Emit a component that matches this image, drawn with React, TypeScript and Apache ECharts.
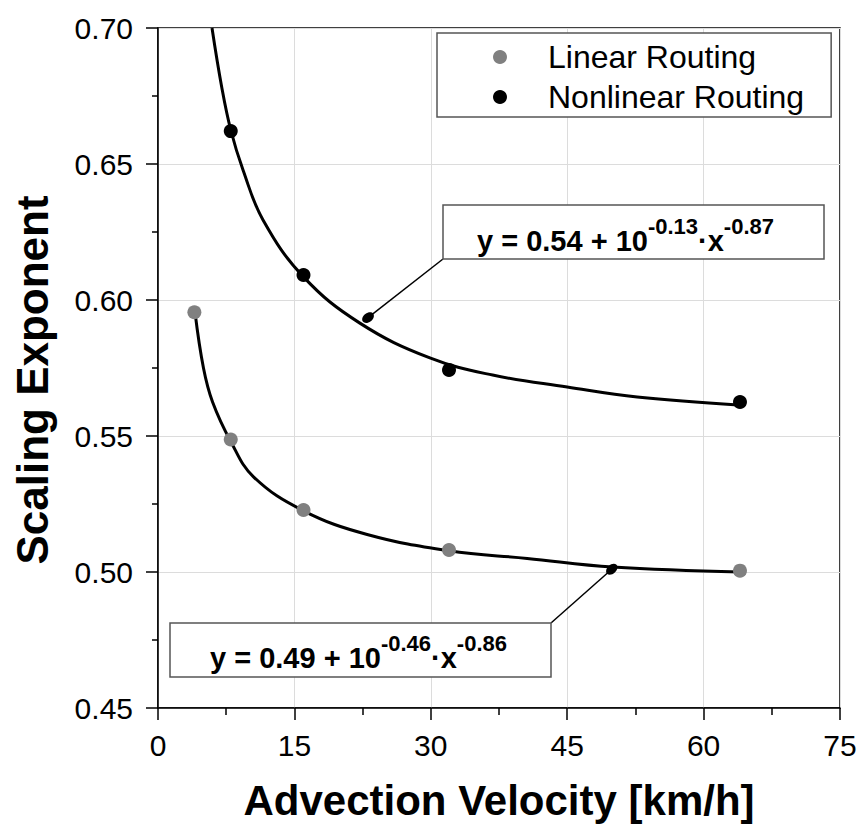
import React, { useEffect, useRef } from "react";
import * as echarts from "echarts";

// Measured points (advection velocity km/h, scaling exponent)
const linearVelocity = [4, 8, 16, 32, 64];
const linearExponent = [0.5955, 0.5487, 0.5228, 0.5081, 0.5005];
const nonlinearVelocity = [8, 16, 32, 64];
const nonlinearExponent = [0.6621, 0.6092, 0.5743, 0.5625];

// Fitted curves
const linearFitX = [4.07, 5, 6, 8, 10.5, 16, 23, 32, 40.6, 50, 64];
const linearFitY = [0.5955, 0.575, 0.5625, 0.548, 0.535, 0.5225, 0.5138, 0.5078, 0.505, 0.5018, 0.5];
const nonlinearFitX = [5.94, 7, 8, 9.35, 11.55, 16, 22.2, 29.9, 36.8, 45, 52.7, 63.8];
const nonlinearFitY = [0.7, 0.6784, 0.6625, 0.6478, 0.6294, 0.6085, 0.5915, 0.5787, 0.5724, 0.568, 0.5643, 0.5614];

// Annotation anchors on the curves and formula parts
const annotationAnchors = [
  [23.1, 0.5935],
  [49.9, 0.501],
];
const formulaConst = ["0.54", "0.49"];
const formulaLogA = ["-0.13", "-0.46"];
const formulaExp = ["-0.87", "-0.86"];

const xTicks = [0, 15, 30, 45, 60, 75];
const yTicks = [0.45, 0.5, 0.55, 0.6, 0.65, 0.7];

const FONT = 'Arial, "Liberation Sans", Helvetica, sans-serif';

const zip = (xs: number[], ys: number[]) => xs.map((x, i) => [x, ys[i]]);

export default function App() {
  const ref = useRef<HTMLDivElement>(null);
  useEffect(() => {
    document.body.style.margin = "0";
    const chart = echarts.init(ref.current!, null, { renderer: "svg" });
    const option: any = {
      animation: false,
      backgroundColor: "#fff",
      grid: {
        left: 158,
        top: 28,
        width: 682,
        height: 680,
        show: true,
        borderColor: "#000",
        borderWidth: 1.5,
        backgroundColor: "transparent",
      },
      legend: {
        data: ["Linear Routing", "Nonlinear Routing"],
        orient: "vertical",
        left: 437,
        top: 33,
        itemWidth: 14,
        itemHeight: 14,
        itemGap: 8,
        padding: [8, 27, 4, 56],
        borderColor: "#555",
        borderWidth: 1.5,
        backgroundColor: "#fff",
        textStyle: { fontSize: 32, fontFamily: FONT, color: "#000", padding: [0, 0, 0, 36] },
      },
      xAxis: {
        type: "value",
        min: xTicks[0],
        max: xTicks[xTicks.length - 1],
        interval: 15,
        name: "Advection Velocity [km/h]",
        nameLocation: "middle",
        nameGap: 71,
        nameTextStyle: { fontSize: 42, fontWeight: "bold", fontFamily: FONT, color: "#000" },
        axisLine: { show: true, onZero: false, lineStyle: { color: "#000", width: 1.5 } },
        axisTick: { show: true, length: 12, lineStyle: { color: "#000", width: 1.5 } },
        minorTick: { show: true, splitNumber: 2, length: 7, lineStyle: { color: "#000", width: 1.5 } },
        axisLabel: { fontSize: 30, fontFamily: FONT, color: "#000", margin: 22 },
        splitLine: { show: true, lineStyle: { color: "#dcdcdc", width: 1 } },
      },
      yAxis: {
        type: "value",
        min: yTicks[0],
        max: yTicks[yTicks.length - 1],
        interval: 0.05,
        axisLine: { show: true, onZero: false, lineStyle: { color: "#000", width: 1.5 } },
        axisTick: { show: true, length: 12, lineStyle: { color: "#000", width: 1.5 } },
        minorTick: { show: true, splitNumber: 2, length: 6, lineStyle: { color: "#000", width: 1.5 } },
        axisLabel: {
          fontSize: 30,
          fontFamily: FONT,
          color: "#000",
          margin: 25,
          formatter: (v: number) => v.toFixed(2),
        },
        splitLine: { show: true, lineStyle: { color: "#dcdcdc", width: 1 } },
      },
      series: [
        {
          name: "Linear fit",
          type: "line",
          data: zip(linearFitX, linearFitY),
          smooth: 0.4,
          showSymbol: false,
          lineStyle: { color: "#000", width: 3 },
          z: 2,
          silent: true,
        },
        {
          name: "Nonlinear fit",
          type: "line",
          data: zip(nonlinearFitX, nonlinearFitY),
          smooth: 0.4,
          showSymbol: false,
          lineStyle: { color: "#000", width: 3 },
          z: 2,
          silent: true,
        },
        {
          name: "Linear Routing",
          type: "scatter",
          data: zip(linearVelocity, linearExponent),
          symbolSize: 14,
          itemStyle: { color: "#808080", opacity: 1 },
          z: 4,
        },
        {
          name: "Nonlinear Routing",
          type: "scatter",
          data: zip(nonlinearVelocity, nonlinearExponent),
          symbolSize: 14,
          itemStyle: { color: "#000", opacity: 1 },
          z: 4,
        },
      ],
    };
    chart.setOption(option);

    const a1 = chart.convertToPixel({ gridIndex: 0 }, annotationAnchors[0]) as number[];
    const a2 = chart.convertToPixel({ gridIndex: 0 }, annotationAnchors[1]) as number[];

    const rich = {
      m: { fontSize: 29, fontWeight: "bold", fontFamily: FONT, color: "#000", verticalAlign: "bottom", lineHeight: 30 },
      s: {
        fontSize: 22,
        fontWeight: "bold",
        fontFamily: FONT,
        color: "#000",
        verticalAlign: "bottom",
        lineHeight: 22,
        padding: [0, 0, 18, 0],
      },
    };
    const formula = (i: number) =>
      `{m|y = ${formulaConst[i]} + 10}{s|${formulaLogA[i]}}{m|·x}{s|${formulaExp[i]}}`;

    const boxes = [
      { x: 443, y: 205, w: 381, h: 54, corner: [443, 259], textX: 477, textY: 255, anchor: a1 },
      { x: 170, y: 623, w: 381, h: 54, corner: [551, 623], textX: 210, textY: 672, anchor: a2 },
    ];
    const graphic: any[] = [
      {
        type: "text",
        x: 32,
        y: 380,
        rotation: Math.PI / 2,
        style: {
          text: "Scaling Exponent",
          fontSize: 44,
          fontWeight: "bold",
          fontFamily: FONT,
          fill: "#000",
          align: "center",
          verticalAlign: "middle",
        },
        z: 10,
      },
    ];
    boxes.forEach((b, i) => {
      graphic.push({
        type: "line",
        shape: { x1: b.anchor[0], y1: b.anchor[1], x2: b.corner[0], y2: b.corner[1] },
        style: { stroke: "#000", lineWidth: 1.5 },
        z: 10,
      });
      graphic.push({
        type: "ellipse",
        x: b.anchor[0],
        y: b.anchor[1],
        rotation: i === 0 ? 0.65 : 0.75,
        shape: { cx: 0, cy: 0, rx: 6.5, ry: 4.5 },
        style: { fill: "#000" },
        z: 11,
      });
      graphic.push({
        type: "rect",
        shape: { x: b.x, y: b.y, width: b.w, height: b.h },
        style: { fill: "#fff", stroke: "#555", lineWidth: 1.5 },
        z: 10,
      });
      graphic.push({
        type: "text",
        x: b.textX,
        y: b.textY,
        style: { text: formula(i), rich, verticalAlign: "bottom", align: "left" },
        z: 11,
      });
    });
    chart.setOption({ graphic });

    return () => chart.dispose();
  }, []);
  return <div ref={ref} style={{ width: 861, height: 831 }} />;
}
